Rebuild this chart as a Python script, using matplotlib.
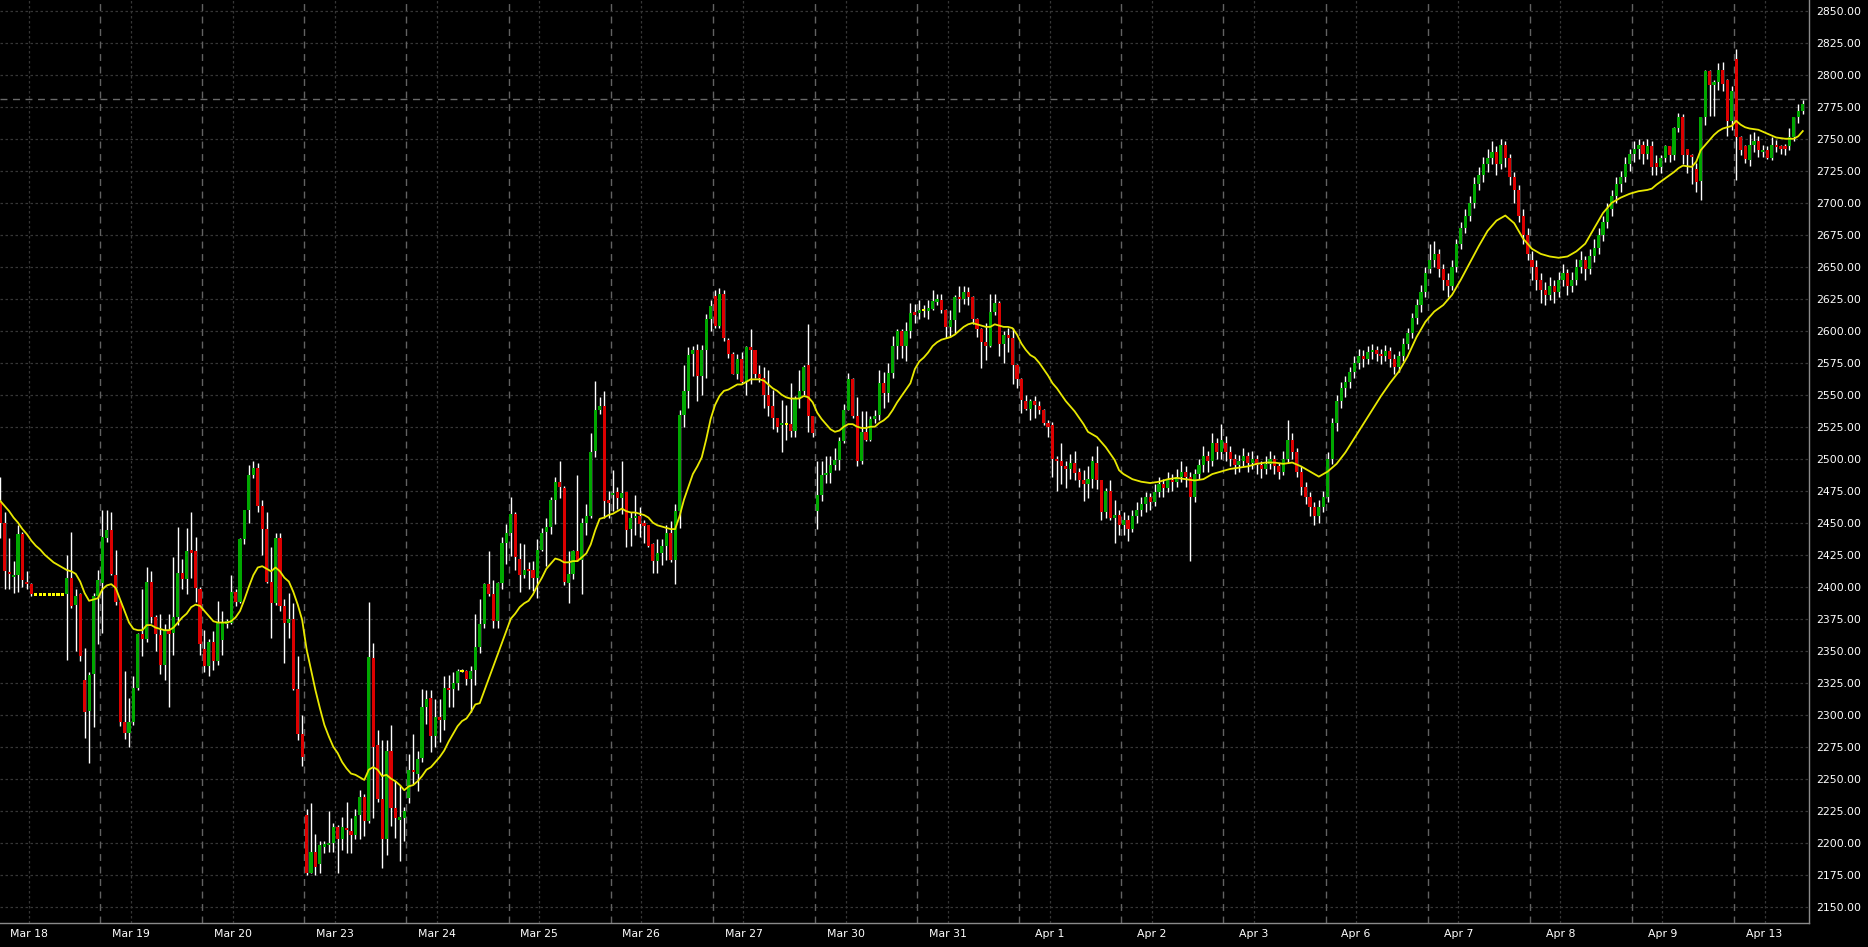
import numpy as np
import matplotlib
matplotlib.use("Agg")
import matplotlib.pyplot as plt

# hourly bars, 23 per session, first bar is index -1 (half cut by the left edge)
first_bar = -1
dates = ["Mar 18", "Mar 19", "Mar 20", "Mar 23", "Mar 24", "Mar 25", "Mar 26", "Mar 27", "Mar 30",
         "Mar 31", "Apr 1", "Apr 2", "Apr 3", "Apr 6", "Apr 7", "Apr 8", "Apr 9", "Apr 13"]

opens = [
    2467, 2450, 2411, 2408, 2409, 2441, 2404, 2402, 2394, 2394, 2394, 2394, 2394, 2394, 2394, 2394, 2407, 2386, 2394, 2327, 2303, 2332, 2393,
    2403, 2438, 2444, 2409, 2388, 2294, 2286, 2294, 2321, 2363, 2359, 2404, 2376, 2362, 2339, 2366, 2364, 2376, 2411, 2406, 2428, 2428, 2398,
    2351, 2338, 2357, 2342, 2358, 2371, 2372, 2396, 2388, 2437, 2460, 2487, 2493, 2463, 2445, 2404, 2387, 2438, 2385, 2372, 2375, 2320, 2285,
    2222, 2176, 2193, 2183, 2197, 2198, 2200, 2212, 2203, 2211, 2209, 2206, 2222, 2236, 2217, 2344, 2276, 2234, 2203, 2272, 2227, 2218, 2219,
    2235, 2257, 2254, 2266, 2306, 2313, 2283, 2298, 2296, 2321, 2320, 2325, 2334, 2334, 2328, 2335, 2353, 2371, 2402, 2394, 2373, 2403, 2434,
    2442, 2457, 2422, 2409, 2414, 2413, 2407, 2429, 2443, 2447, 2468, 2482, 2477, 2403, 2410, 2428, 2421, 2450, 2455, 2506, 2538, 2541, 2467,
    2472, 2474, 2469, 2474, 2445, 2454, 2455, 2449, 2448, 2433, 2420, 2426, 2432, 2442, 2421, 2459, 2534, 2553, 2582, 2585, 2565, 2585, 2609,
    2627, 2604, 2629, 2593, 2582, 2566, 2578, 2560, 2587, 2585, 2566, 2563, 2550, 2541, 2532, 2526, 2527, 2527, 2522, 2547, 2553, 2573, 2533,
    2459, 2472, 2487, 2489, 2495, 2499, 2514, 2538, 2562, 2533, 2498, 2521, 2515, 2531, 2534, 2559, 2551, 2567, 2588, 2600, 2588, 2600, 2614,
    2614, 2616, 2616, 2617, 2623, 2624, 2616, 2603, 2608, 2626, 2625, 2630, 2626, 2609, 2601, 2591, 2588, 2615, 2622, 2590, 2597, 2594, 2573,
    2562, 2545, 2539, 2545, 2541, 2538, 2528, 2526, 2500, 2498, 2494, 2492, 2497, 2490, 2483, 2480, 2484, 2497, 2483, 2458, 2475, 2454, 2456,
    2448, 2452, 2445, 2455, 2460, 2465, 2470, 2466, 2474, 2480, 2477, 2483, 2482, 2486, 2490, 2486, 2470, 2488, 2495, 2502, 2498, 2512, 2505,
    2512, 2505, 2500, 2495, 2498, 2502, 2497, 2500, 2495, 2492, 2496, 2500, 2494, 2490, 2500, 2515, 2505, 2490, 2478, 2470, 2462, 2455, 2462,
    2470, 2500, 2528, 2545, 2555, 2560, 2568, 2575, 2580, 2578, 2583, 2585, 2582, 2580, 2584, 2578, 2572, 2580, 2590, 2598, 2610, 2620, 2630,
    2648, 2655, 2660, 2648, 2640, 2635, 2650, 2668, 2680, 2690, 2700, 2715, 2722, 2730, 2735, 2740, 2730, 2745, 2735, 2720, 2710, 2690, 2675,
    2655, 2650, 2640, 2632, 2628, 2635, 2630, 2640, 2645, 2635, 2640, 2650, 2655, 2648, 2658, 2665, 2675, 2685, 2695, 2705, 2715, 2720, 2730,
    2738, 2742, 2745, 2738, 2744, 2731, 2728, 2735, 2744, 2737, 2758, 2767, 2742, 2737, 2726, 2717, 2767, 2803, 2792, 2794, 2804, 2796, 2764,
    2812, 2751, 2744, 2733, 2745, 2748, 2740, 2741, 2735, 2745, 2744, 2744, 2744, 2751, 2767, 2772,
]
highs = [
    2486, 2458, 2438, 2420, 2448, 2443, 2412, 2403, 2394, 2394, 2394, 2394, 2394, 2394, 2394, 2425, 2443, 2398, 2395, 2352, 2333, 2395, 2413,
    2460, 2460, 2458, 2429, 2389, 2334, 2313, 2330, 2364, 2398, 2415, 2412, 2378, 2379, 2371, 2379, 2423, 2447, 2422, 2446, 2458, 2439, 2400,
    2366, 2359, 2365, 2389, 2381, 2375, 2409, 2398, 2438, 2460, 2495, 2498, 2497, 2468, 2458, 2431, 2442, 2442, 2390, 2395, 2387, 2346, 2300,
    2226, 2231, 2207, 2201, 2201, 2225, 2215, 2214, 2220, 2232, 2219, 2226, 2241, 2238, 2388, 2356, 2288, 2280, 2280, 2292, 2248, 2245, 2228,
    2269, 2285, 2272, 2320, 2319, 2319, 2312, 2312, 2330, 2331, 2333, 2336, 2336, 2335, 2338, 2379, 2390, 2403, 2428, 2405, 2404, 2439, 2449,
    2470, 2458, 2434, 2433, 2419, 2420, 2437, 2446, 2454, 2470, 2486, 2498, 2479, 2428, 2429, 2487, 2454, 2465, 2520, 2561, 2548, 2553, 2475,
    2491, 2478, 2498, 2474, 2458, 2472, 2462, 2452, 2448, 2434, 2437, 2437, 2448, 2451, 2465, 2538, 2573, 2587, 2588, 2590, 2589, 2613, 2624,
    2632, 2633, 2632, 2594, 2583, 2582, 2583, 2588, 2601, 2585, 2573, 2572, 2569, 2554, 2532, 2546, 2542, 2559, 2549, 2569, 2573, 2605, 2533,
    2498, 2498, 2502, 2502, 2508, 2517, 2543, 2567, 2563, 2548, 2537, 2537, 2533, 2538, 2569, 2568, 2575, 2596, 2601, 2601, 2607, 2622, 2621,
    2624, 2620, 2624, 2632, 2629, 2629, 2617, 2616, 2628, 2635, 2635, 2634, 2627, 2610, 2602, 2606, 2629, 2629, 2623, 2600, 2602, 2602, 2574,
    2563, 2550, 2547, 2549, 2545, 2539, 2530, 2529, 2502, 2512, 2498, 2504, 2506, 2493, 2491, 2494, 2502, 2510, 2483, 2477, 2483, 2468, 2460,
    2458, 2456, 2460, 2466, 2470, 2474, 2473, 2480, 2486, 2484, 2490, 2488, 2492, 2498, 2494, 2490, 2492, 2500, 2510, 2506, 2520, 2516, 2527,
    2518, 2510, 2504, 2503, 2508, 2505, 2506, 2503, 2498, 2502, 2506, 2503, 2497, 2506, 2530, 2520, 2508, 2494, 2482, 2474, 2466, 2468, 2475,
    2505, 2532, 2550, 2560, 2565, 2572, 2580, 2586, 2585, 2588, 2590, 2588, 2586, 2589, 2587, 2582, 2584, 2594, 2602, 2614, 2625, 2636, 2650,
    2668, 2670, 2664, 2652, 2645, 2655, 2672, 2685, 2695, 2705, 2720, 2728, 2736, 2742, 2748, 2744, 2750, 2748, 2738, 2724, 2714, 2695, 2680,
    2662, 2655, 2645, 2638, 2642, 2640, 2646, 2652, 2648, 2646, 2656, 2662, 2658, 2664, 2672, 2680, 2690, 2700, 2710, 2720, 2725, 2736, 2742,
    2748, 2750, 2748, 2750, 2748, 2737, 2737, 2745, 2744, 2759, 2770, 2769, 2742, 2738, 2731, 2767, 2804, 2804, 2796, 2809, 2810, 2797, 2791,
    2820, 2752, 2745, 2754, 2755, 2752, 2745, 2744, 2751, 2749, 2745, 2746, 2758, 2767, 2777, 2780,
]
lows = [
    2438, 2398, 2398, 2395, 2396, 2400, 2398, 2393, 2394, 2394, 2394, 2394, 2394, 2394, 2394, 2343, 2383, 2350, 2342, 2282, 2262, 2290, 2355,
    2364, 2435, 2409, 2386, 2291, 2281, 2275, 2292, 2319, 2346, 2357, 2372, 2350, 2332, 2327, 2306, 2347, 2370, 2398, 2394, 2407, 2388, 2347,
    2333, 2330, 2335, 2339, 2347, 2368, 2371, 2385, 2387, 2433, 2450, 2485, 2458, 2425, 2403, 2360, 2386, 2381, 2340, 2360, 2319, 2280, 2260,
    2175, 2176, 2175, 2176, 2192, 2193, 2193, 2176, 2194, 2192, 2192, 2203, 2203, 2205, 2215, 2219, 2232, 2180, 2190, 2213, 2204, 2186, 2201,
    2231, 2246, 2240, 2263, 2293, 2271, 2275, 2279, 2288, 2306, 2306, 2319, 2333, 2323, 2302, 2323, 2348, 2368, 2393, 2368, 2368, 2398, 2418,
    2424, 2413, 2396, 2407, 2398, 2397, 2391, 2428, 2416, 2441, 2449, 2469, 2401, 2387, 2406, 2420, 2394, 2440, 2454, 2501, 2535, 2454, 2454,
    2459, 2461, 2457, 2431, 2432, 2440, 2439, 2434, 2431, 2411, 2411, 2417, 2421, 2419, 2402, 2446, 2525, 2540, 2565, 2545, 2550, 2563, 2600,
    2602, 2602, 2592, 2579, 2566, 2562, 2559, 2550, 2558, 2563, 2560, 2540, 2533, 2523, 2521, 2505, 2515, 2517, 2517, 2540, 2550, 2521, 2517,
    2445, 2467, 2481, 2481, 2491, 2491, 2512, 2538, 2532, 2494, 2496, 2514, 2514, 2528, 2530, 2540, 2544, 2563, 2578, 2579, 2576, 2594, 2606,
    2609, 2611, 2609, 2616, 2620, 2614, 2594, 2595, 2598, 2615, 2621, 2620, 2605, 2595, 2571, 2577, 2587, 2612, 2580, 2575, 2583, 2558, 2555,
    2536, 2538, 2530, 2532, 2535, 2526, 2517, 2486, 2475, 2480, 2477, 2484, 2483, 2478, 2467, 2469, 2477, 2476, 2452, 2454, 2452, 2434, 2440,
    2440, 2436, 2443, 2450, 2455, 2458, 2460, 2463, 2470, 2470, 2474, 2475, 2478, 2482, 2478, 2420, 2466, 2484, 2490, 2490, 2494, 2500, 2500,
    2498, 2494, 2488, 2490, 2494, 2490, 2492, 2488, 2485, 2488, 2492, 2488, 2484, 2487, 2497, 2500, 2486, 2472, 2465, 2455, 2448, 2450, 2458,
    2466, 2496, 2522, 2540, 2548, 2555, 2563, 2570, 2572, 2574, 2578, 2576, 2574, 2576, 2572, 2566, 2568, 2576, 2586, 2594, 2605, 2615, 2626,
    2645, 2650, 2642, 2632, 2626, 2632, 2646, 2664, 2676, 2686, 2696, 2710, 2716, 2724, 2730, 2722, 2726, 2728, 2714, 2700, 2685, 2668, 2655,
    2640, 2632, 2622, 2620, 2624, 2622, 2626, 2635, 2628, 2630, 2636, 2645, 2640, 2644, 2654, 2660, 2670, 2680, 2690, 2700, 2708, 2716, 2725,
    2732, 2734, 2730, 2734, 2722, 2722, 2723, 2732, 2732, 2733, 2755, 2730, 2723, 2715, 2708, 2702, 2761, 2768, 2768, 2788, 2787, 2752, 2757,
    2718, 2737, 2731, 2729, 2740, 2736, 2736, 2734, 2733, 2740, 2738, 2737, 2741, 2748, 2762, 2769,
]
closes = [
    2450, 2412, 2410, 2409, 2441, 2405, 2402, 2394, 2394, 2394, 2394, 2394, 2394, 2394, 2394, 2407, 2385, 2393, 2346, 2302, 2331, 2393, 2405,
    2439, 2444, 2410, 2388, 2294, 2286, 2294, 2321, 2363, 2359, 2404, 2376, 2363, 2339, 2366, 2363, 2376, 2411, 2406, 2428, 2427, 2399, 2355,
    2338, 2357, 2342, 2372, 2372, 2373, 2396, 2388, 2437, 2460, 2487, 2493, 2463, 2445, 2404, 2387, 2438, 2385, 2372, 2375, 2320, 2285, 2267,
    2176, 2193, 2181, 2198, 2199, 2200, 2212, 2203, 2212, 2210, 2206, 2221, 2236, 2217, 2345, 2275, 2234, 2203, 2272, 2227, 2219, 2220, 2225,
    2257, 2255, 2265, 2306, 2312, 2283, 2298, 2296, 2321, 2319, 2325, 2334, 2334, 2328, 2334, 2353, 2371, 2402, 2394, 2373, 2403, 2434, 2442,
    2457, 2423, 2409, 2413, 2412, 2407, 2429, 2442, 2447, 2468, 2482, 2478, 2404, 2410, 2428, 2421, 2450, 2455, 2505, 2538, 2541, 2467, 2466,
    2473, 2469, 2473, 2444, 2454, 2455, 2449, 2448, 2432, 2420, 2426, 2432, 2442, 2421, 2459, 2534, 2553, 2581, 2585, 2565, 2585, 2609, 2619,
    2604, 2629, 2594, 2582, 2566, 2578, 2560, 2587, 2585, 2566, 2563, 2550, 2541, 2532, 2525, 2528, 2527, 2522, 2547, 2553, 2572, 2533, 2520,
    2472, 2487, 2489, 2495, 2499, 2514, 2538, 2562, 2533, 2498, 2521, 2515, 2531, 2533, 2559, 2551, 2567, 2588, 2600, 2588, 2600, 2614, 2613,
    2616, 2616, 2617, 2623, 2624, 2616, 2603, 2608, 2626, 2625, 2630, 2626, 2609, 2601, 2591, 2588, 2615, 2622, 2590, 2597, 2594, 2573, 2562,
    2546, 2539, 2545, 2542, 2538, 2528, 2525, 2500, 2498, 2494, 2492, 2497, 2489, 2483, 2480, 2484, 2498, 2483, 2458, 2475, 2454, 2456, 2448,
    2452, 2445, 2455, 2460, 2465, 2470, 2466, 2474, 2480, 2477, 2483, 2482, 2486, 2490, 2486, 2470, 2488, 2495, 2502, 2498, 2512, 2505, 2515,
    2505, 2500, 2495, 2498, 2502, 2497, 2500, 2495, 2492, 2496, 2500, 2494, 2490, 2500, 2515, 2505, 2490, 2478, 2470, 2462, 2455, 2462, 2470,
    2500, 2528, 2545, 2555, 2560, 2568, 2575, 2580, 2578, 2583, 2585, 2582, 2580, 2584, 2578, 2572, 2580, 2590, 2598, 2610, 2620, 2630, 2645,
    2655, 2660, 2648, 2640, 2635, 2650, 2668, 2680, 2690, 2700, 2715, 2722, 2730, 2735, 2740, 2730, 2745, 2735, 2720, 2710, 2690, 2675, 2660,
    2650, 2640, 2632, 2628, 2635, 2630, 2640, 2645, 2635, 2640, 2650, 2655, 2648, 2658, 2665, 2675, 2685, 2695, 2705, 2715, 2720, 2730, 2738,
    2742, 2745, 2738, 2744, 2728, 2728, 2735, 2744, 2737, 2758, 2767, 2737, 2737, 2736, 2716, 2767, 2803, 2792, 2794, 2804, 2793, 2764, 2787,
    2751, 2741, 2734, 2745, 2748, 2741, 2741, 2735, 2745, 2744, 2742, 2742, 2751, 2767, 2772, 2777,
]

# moving average (bar index, value)
ma_bars = list(range(-1, 108)) + list(range(114, 252)) + list(range(252, 371, 2)) + \
    [371, 372, 374, 376, 377, 378, 380, 381, 382, 383, 384, 385, 386, 387, 388, 389, 390, 391, 392, 393, 395, 397, 399, 401, 403, 404, 405]
ma_vals = [
    2467, 2463, 2459, 2454, 2450, 2445, 2441, 2436, 2432, 2429, 2425, 2422, 2419, 2417, 2415, 2413, 2412, 2410, 2404, 2395,
    2389, 2390, 2391, 2398, 2401, 2402, 2399, 2390, 2381, 2372, 2367, 2366, 2366, 2370, 2370, 2368, 2367, 2366, 2366, 2368,
    2372, 2376, 2379, 2384, 2386, 2385, 2381, 2377, 2373, 2372, 2372, 2372, 2373, 2376, 2381, 2390, 2400, 2409, 2415, 2416,
    2414, 2412, 2415, 2412, 2407, 2404, 2396, 2386, 2374, 2351, 2335, 2319, 2305, 2292, 2283, 2275, 2270, 2263, 2258, 2254,
    2253, 2251, 2249, 2257, 2259, 2257, 2252, 2253, 2250, 2248, 2245, 2241, 2244, 2245, 2248, 2252, 2257, 2259, 2263, 2267,
    2272, 2279, 2285, 2291, 2295, 2297, 2302, 2308, 2309,
    2375, 2379, 2384, 2387, 2389, 2394, 2401, 2407, 2414, 2418, 2422, 2421, 2419, 2419, 2420, 2420, 2423, 2426, 2433, 2444,
    2453, 2454, 2456, 2457, 2459, 2461, 2459, 2458, 2458, 2457, 2456, 2454, 2450, 2448, 2447, 2446, 2445, 2445, 2455, 2468,
    2478, 2488, 2494, 2501, 2515, 2531, 2542, 2549, 2553, 2554, 2556, 2558, 2558, 2560, 2562, 2562, 2562, 2561, 2558, 2555,
    2553, 2550, 2548, 2547, 2547, 2547, 2549, 2548, 2544, 2536, 2531, 2527, 2523, 2521, 2522, 2525, 2527, 2527, 2525, 2524,
    2524, 2525, 2525, 2528, 2530, 2533, 2538, 2544, 2549, 2554, 2559, 2570, 2576, 2579, 2583, 2588, 2591, 2593, 2594, 2595,
    2597, 2600, 2603, 2605, 2606, 2605, 2604, 2603, 2603, 2605, 2604, 2603, 2603, 2602, 2597, 2590, 2585, 2581, 2579, 2575,
    2570, 2565, 2559, 2555, 2550, 2545, 2541, 2537, 2532, 2527, 2521, 2519, 2517, 2513, 2509, 2504, 2499, 2491,
    2488, 2484, 2482, 2481, 2482, 2484, 2485, 2484, 2483, 2484, 2488, 2490, 2492, 2493, 2494, 2496, 2497, 2497, 2496, 2497,
    2494, 2490, 2486, 2490, 2496, 2505, 2516, 2527, 2538, 2549, 2559, 2568, 2580, 2595, 2607, 2615, 2620, 2628, 2640, 2653,
    2666, 2678, 2686, 2690, 2684, 2672, 2664, 2660, 2658, 2657, 2658, 2662, 2668, 2680, 2692, 2700, 2704, 2707, 2709, 2710,
    2711, 2714, 2719, 2724, 2727, 2729, 2728, 2732, 2741, 2745, 2749, 2753, 2756, 2758, 2759, 2760, 2764, 2761, 2759, 2758,
    2757, 2754, 2751, 2750, 2750, 2752, 2756,
]
last_price = 2781

opens = np.array(opens, dtype=float)
highs = np.array(highs, dtype=float)
lows = np.array(lows, dtype=float)
closes = np.array(closes, dtype=float)
x = np.arange(first_bar, first_bar + len(closes))

fig = plt.figure(figsize=(18.68, 9.47), dpi=100, facecolor="black")
ax = fig.add_axes([0, 23.7 / 947, 1809 / 1868, 923.3 / 947])
ax.set_facecolor("black")
ax.set_xlim(-1.06, 406.4)
ax.set_ylim(2137.0, 2858.4)

# grid
yt = np.arange(2150, 2851, 25)
for y in yt:
    ax.axhline(y, color="#363636", lw=0.9, ls=(0, (2, 2)), zorder=0)
seps = [21.5 + 23 * k for k in range(17)]
for s in seps:
    ax.axvline(s, color="#626262", lw=1, ls=(0, (5, 4)), zorder=0)
date_pos = [5.4 + 23 * k for k in range(len(dates))]
for d in date_pos:
    ax.axvline(d, color="#363636", lw=0.9, ls=(0, (2, 2)), zorder=0)
ax.axhline(last_price, color="#6a6a6a", lw=1, ls=(0, (5, 4)), zorder=0)

# candles
colors = np.where(closes > opens, "#00a800", np.where(closes < opens, "#dc0000", "#ffff00"))
ax.vlines(x, lows, highs, color="white", lw=1, zorder=2)
body_lo = np.minimum(opens, closes)
body_h = np.maximum(np.abs(closes - opens), 1.8)
ax.bar(x, body_h, bottom=body_lo - (body_h - np.abs(closes - opens)) / 2, width=0.7,
       color=colors, linewidth=0, zorder=3)

ax.plot(ma_bars, ma_vals, color="#e8e800", lw=1.3, zorder=4)

# axes
ax.yaxis.tick_right()
ax.set_yticks(yt)
ax.set_yticklabels(["%.2f" % v for v in yt])
ax.set_xticks(date_pos)
ax.set_xticklabels(dates)
ax.tick_params(axis="y", colors="white", labelsize=7.8, length=0, pad=5)
ax.tick_params(axis="x", colors="white", labelsize=7.8, length=0, pad=4)
for side in ["top", "left"]:
    ax.spines[side].set_visible(False)
for side in ["right", "bottom"]:
    ax.spines[side].set_color("#8a8a8a")
    ax.spines[side].set_linewidth(1)

fig.savefig("out.png", dpi=100, facecolor="black")
